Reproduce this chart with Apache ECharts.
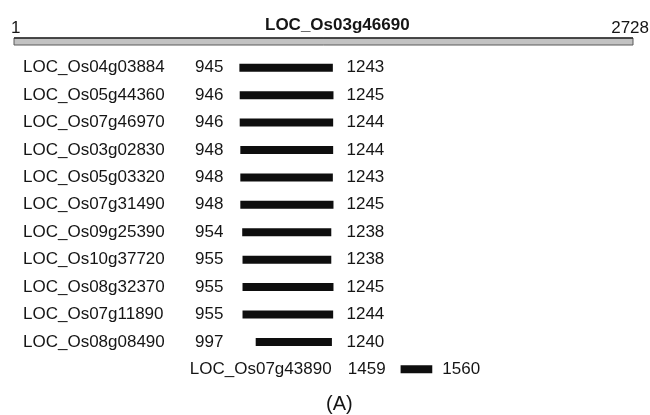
<!DOCTYPE html>
<html lang="en">
<head>
  <meta charset="UTF-8" />
  <title>LOC_Os03g46690 - aligned loci</title>
  <script src="https://cdn.jsdelivr.net/npm/echarts@6.0.0/dist/echarts.min.js"></script>
  <style>
    body {
      margin: 0;
      background: #ffffff;
    }

    #chart {
      width: 650px;
      height: 415px;
    }
  </style>
</head>
<body>
  <div id="chart"></div>
  <script>
    // query gene and its full length
    const queryName = 'LOC_Os03g46690';
    const querySpan = [1, 2728];

    // aligned loci with start / end positions on the query
    const genes = [
      'LOC_Os04g03884', 'LOC_Os05g44360', 'LOC_Os07g46970', 'LOC_Os03g02830',
      'LOC_Os05g03320', 'LOC_Os07g31490', 'LOC_Os09g25390', 'LOC_Os10g37720',
      'LOC_Os08g32370', 'LOC_Os07g11890', 'LOC_Os08g08490', 'LOC_Os07g43890'
    ];
    const starts = [945, 946, 946, 948, 948, 948, 954, 955, 955, 955, 997, 1459];
    const ends = [1243, 1245, 1244, 1244, 1243, 1245, 1238, 1238, 1245, 1244, 1240, 1560];

    const panelLabel = '(A)';

    const chart = echarts.init(document.getElementById('chart'));
    const font = '"Liberation Sans", Arial, sans-serif';
    const ink = '#151515';

    // rows inside the main block share text columns, the rest sit next to their own bar
    const blockEnd = Math.max(...ends.filter((e, i) => starts[i] < 1300));
    const blockStart = Math.min(...starts);

    function label(text, x, y, align, size, vAlign) {
      return {
        type: 'text',
        style: {
          text: String(text),
          x: x,
          y: y,
          align: align,
          verticalAlign: vAlign || 'middle',
          font: (size || 17) + 'px ' + font,
          fill: ink
        }
      };
    }

    function renderQuery(params, api) {
      const a = api.coord([api.value(0), 0]);
      const b = api.coord([api.value(1), 0]);
      const h = 7;
      const top = a[1] - h / 2;
      return {
        type: 'group',
        children: [
          {
            type: 'rect',
            shape: { x: a[0], y: top, width: b[0] - a[0], height: h },
            style: { fill: '#c2c2c2', stroke: '#5a5a5a', lineWidth: 1 }
          },
          {
            type: 'line',
            shape: { x1: a[0], y1: top, x2: b[0], y2: top },
            style: { stroke: '#2a2a2a', lineWidth: 1.5 }
          },
          label(api.value(0), a[0] - 3, top - 1, 'left', 17, 'bottom'),
          label(api.value(1), b[0] + 16, top - 1, 'right', 17, 'bottom')
        ]
      };
    }

    function renderRow(params, api) {
      const row = api.value(0);
      const s = api.value(1);
      const e = api.value(2);
      const a = api.coord([s, row]);
      const b = api.coord([e, row]);
      const y = a[1];
      const h = 8;
      let nameX, nameAlign, startX, endX;
      if (s < blockEnd) {
        startX = api.coord([blockStart, row])[0] - 16;
        endX = api.coord([blockEnd, row])[0] + 13;
        nameX = 23;
        nameAlign = 'left';
      } else {
        startX = a[0] - 15;
        endX = b[0] + 10;
        nameX = startX - 54;
        nameAlign = 'right';
      }
      return {
        type: 'group',
        children: [
          {
            type: 'rect',
            shape: { x: a[0], y: y - h / 2, width: b[0] - a[0], height: h },
            style: { fill: '#0e0e0e' }
          },
          label(genes[params.dataIndex], nameX, y, nameAlign),
          label(s, startX, y, 'right'),
          label(e, endX, y, 'left')
        ]
      };
    }

    const option = {
      animation: false,
      backgroundColor: '#ffffff',
      title: [
        {
          text: queryName,
          left: 260,
          top: 12,
          textStyle: { fontFamily: font, fontSize: 17, fontWeight: 'bold', color: ink }
        },
        {
          text: panelLabel,
          left: 321,
          top: 389,
          textStyle: { fontFamily: font, fontSize: 20, fontWeight: 'normal', color: ink }
        }
      ],
      grid: [
        { left: 14, right: 17, top: 30, height: 23 },
        { left: 12, right: 17, top: 54, height: 329 }
      ],
      xAxis: [
        { type: 'value', gridIndex: 0, min: querySpan[0], max: querySpan[1], show: false },
        { type: 'value', gridIndex: 1, min: 220, max: 2200, show: false }
      ],
      yAxis: [
        { type: 'category', gridIndex: 0, data: [queryName], show: false },
        { type: 'category', gridIndex: 1, data: genes, inverse: true, show: false }
      ],
      series: [
        {
          type: 'custom',
          xAxisIndex: 0,
          yAxisIndex: 0,
          renderItem: renderQuery,
          encode: { x: [0, 1], y: 2 },
          data: [[querySpan[0], querySpan[1], 0]],
          silent: true
        },
        {
          type: 'custom',
          xAxisIndex: 1,
          yAxisIndex: 1,
          renderItem: renderRow,
          encode: { x: [1, 2], y: 0 },
          data: genes.map((g, i) => [i, starts[i], ends[i]]),
          silent: true
        }
      ]
    };

    chart.setOption(option);
    window.addEventListener('resize', () => chart.resize());
  </script>
</body>
</html>
